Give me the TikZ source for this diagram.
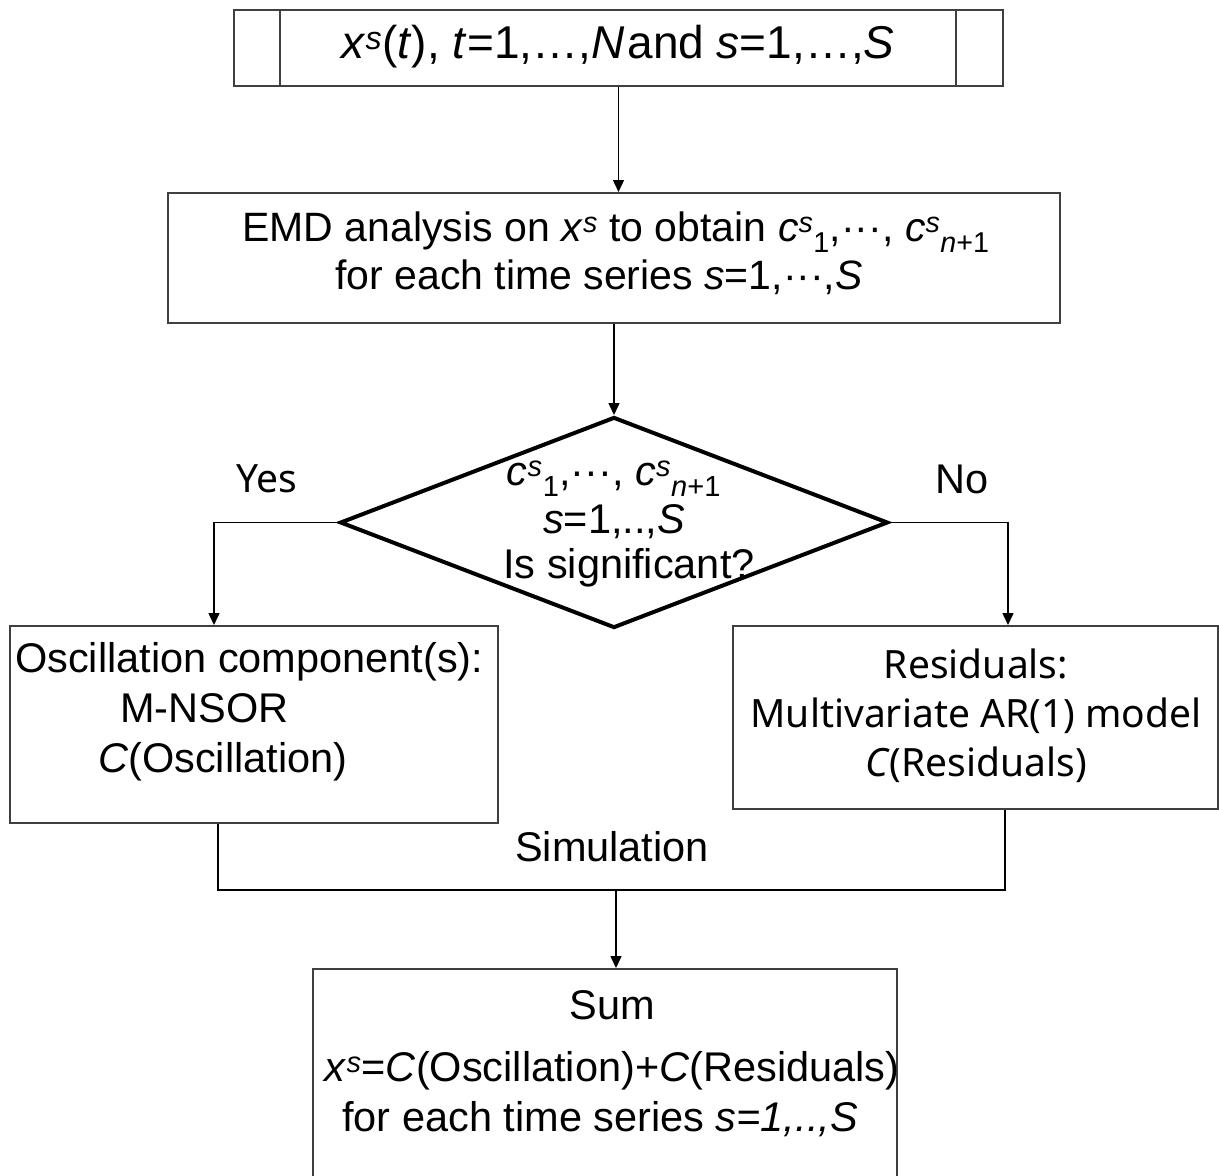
\documentclass[tikz,border=0pt]{standalone}
\usepackage{fontspec}
\setmainfont{Liberation Sans}
\newfontfamily\gothicfont{Noto Sans}
\usetikzlibrary{shapes.geometric,arrows.meta}

\def\mainsize{\fontsize{41.5}{50}\selectfont}
\def\emdsize{\fontsize{41}{48}\selectfont}
\def\topsize{\fontsize{46}{55}\selectfont}
\def\decsize{\fontsize{41.5}{45}\selectfont}
\def\gothicsize{\gothicfont\fontsize{39}{49}\selectfont}

\tikzset{
    boxline/.style={draw=black!75, line width=2pt},
    box/.style={boxline, rectangle, inner sep=0pt},
    decision/.style={draw=black, line width=4pt, diamond, inner sep=0pt,
        minimum width=548pt, minimum height=211pt},
    link/.style={line width=1.5pt},
    flow/.style={link, -{Triangle[width=11pt,length=12pt]}},
    txt/.style={font=\mainsize, align=center, inner sep=0pt}
}

\begin{document}
\begin{tikzpicture}[x=1pt,y=-1pt]
    \clip (0,0) rectangle (1219,1176);

    \node[box, minimum width=769pt, minimum height=76pt] (input) at (618.5,48) {};
    \draw[boxline] ([xshift=47pt]input.north west) -- ([xshift=47pt]input.south west);
    \draw[boxline] ([xshift=-48pt]input.north east) -- ([xshift=-48pt]input.south east);
    \node[box, minimum width=892pt, minimum height=130pt] (emd) at (614,258) {};
    \node[decision] (dec) at (614,522.5) {};
    \node[box, minimum width=488pt, minimum height=197pt] (osc) at (254,724.5) {};
    \node[box, minimum width=485pt, minimum height=183pt] (res) at (975.5,717.5) {};
    \node[box, minimum width=584pt, minimum height=300pt, anchor=north] (sumbox) at (605,968) {};
    \coordinate (join) at (616,890);

    \node[txt, font=\topsize] (inputtext) at (618,47)
        {\textit{x}\textsuperscript{\textit{s}}(\textit{t}), \textit{t}=1,…,\textit{N}\hspace{3pt}and \textit{s}=1,…,\textit{S}};
    \node[txt, font=\emdsize] (emdtext) at (616,253)
        {EMD analysis on \textit{x}\textsuperscript{\textit{s}} to obtain \textit{c}\textsuperscript{\textit{s}}\textsubscript{1},···, \textit{c}\textsuperscript{\textit{s}}\textsubscript{\textit{n}+1}\\
        for each time series \textit{s}=1,···,\textit{S}\hspace*{34pt}};
    \node[txt, font=\decsize] (dectext) at (614,524)
        {\textit{c}\textsuperscript{\textit{s}}\textsubscript{1},···, \textit{c}\textsuperscript{\textit{s}}\textsubscript{\textit{n}+1}\\[3pt]
        \textit{s}=1,..,\textit{S}\\
        \hspace*{30pt}Is significant?};
    \node[txt, align=left, anchor=west] (osctext) at (15,712)
        {Oscillation component(s):\\
        \hspace*{105pt}M-NSOR\\
        \hspace*{83pt}\textit{C}(Oscillation)};
    \node[txt, font=\gothicsize] (restext) at (976,716)
        {Residuals:\\
        Multivariate AR(1) model\\
        \textit{C}(Residuals)};
    \node[txt] (sumtext) at (612,1064)
        {Sum\\[12pt]
        \textit{x}\textsuperscript{\textit{s}}=\textit{C}(Oscillation)+\textit{C}(Residuals)\\
        for each time series \textit{s=1,..,S}\hspace*{24pt}};

    \node[txt, font=\gothicsize] (yes) at (267,479) {Yes};
    \node[txt] (no) at (962,479) {No};
    \node[txt] (simulation) at (612,847) {Simulation};

    \draw[flow] (input.south) -- (input.south |- emd.north);
    \draw[flow] (emd.south) -- (dec.north);
    \draw[flow] (dec.west) -| ([xshift=-40pt]osc.north);
    \draw[flow] (dec.east) -| ([xshift=32.5pt]res.north);
    \draw[link] ([xshift=-36pt]osc.south) |- (join);
    \draw[link] ([xshift=29.5pt]res.south) |- (join);
    \draw[flow] (join) -- (join |- sumbox.north);
\end{tikzpicture}
\end{document}
